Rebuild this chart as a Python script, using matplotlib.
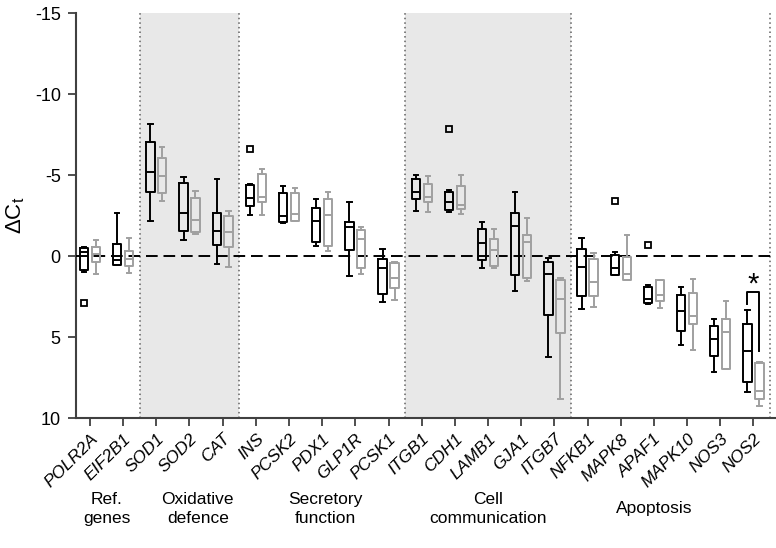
import numpy as np
import matplotlib
matplotlib.use('Agg')
import matplotlib.pyplot as plt

plt.rcParams['font.family'] = ['Liberation Sans', 'DejaVu Sans']
plt.rcParams['axes.unicode_minus'] = False

genes = ['POLR2A', 'EIF2B1', 'SOD1', 'SOD2', 'CAT', 'INS', 'PCSK2', 'PDX1', 'GLP1R', 'PCSK1',
         'ITGB1', 'CDH1', 'LAMB1', 'GJA1', 'ITGB7', 'NFKB1', 'MAPK8', 'APAF1', 'MAPK10', 'NOS3', 'NOS2']

# (whisker low, q1, median, q3, whisker high) for each gene, black series
black = [(-0.55, -0.5, -0.27, 0.84, 1.0), (-2.67, -0.78, 0.22, 0.53, 0.55),
         (-8.15, -7.02, -5.19, -3.99, -2.18), (-4.9, -4.49, -2.67, -1.56, -0.99),
         (-4.75, -2.65, -1.58, -0.68, 0.49), (-4.45, -4.42, -3.58, -3.12, -2.57),
         (-4.32, -3.91, -2.49, -2.08, -2.02), (-3.5, -3.0, -2.16, -0.88, -0.64),
         (-3.35, -2.12, -1.81, -0.37, 1.23), (-0.45, 0.19, 0.76, 2.35, 2.86),
         (-4.98, -4.79, -3.99, -3.54, -2.78), (-4.07, -3.99, -3.37, -2.84, -2.72),
         (-2.08, -1.65, -0.82, 0.25, 0.72), (-3.99, -2.65, -1.87, 1.15, 2.18),
         (0.14, 0.39, 1.11, 3.66, 6.25), (-1.15, -0.47, 0.66, 2.47, 3.29),
         (-0.23, -0.08, 0.76, 1.17, 1.17), (1.81, 1.93, 2.65, 2.88, 2.98),
         (1.89, 2.39, 3.4, 4.63, 5.49), (3.85, 4.3, 5.12, 6.15, 7.18),
         (3.33, 4.18, 5.84, 7.78, 8.4)]
black_out = {'POLR2A': [2.9], 'INS': [-6.62], 'CDH1': [-7.82], 'MAPK8': [-3.4], 'APAF1': [-0.66]}

# gray series
gray = [(-0.99, -0.58, -0.16, 0.35, 1.11), (-1.09, -0.31, 0.19, 0.6, 1.07),
        (-6.71, -6.07, -4.92, -3.87, -3.4), (-4.01, -3.56, -2.2, -1.5, -1.36),
        (-2.76, -2.45, -1.48, -0.58, 0.7), (-5.37, -5.1, -3.62, -3.35, -2.53),
        (-4.18, -3.87, -2.59, -2.18, -2.18), (-3.93, -3.5, -2.57, -0.62, -0.31),
        (-1.81, -1.6, -1.03, 0.76, 1.11), (0.39, 0.45, 1.34, 1.95, 2.72),
        (-4.96, -4.44, -3.68, -3.37, -2.7), (-5.02, -4.36, -3.15, -2.9, -2.59),
        (-1.67, -1.05, -0.35, 0.62, 0.76), (-2.33, -1.3, -0.86, 1.38, 1.56),
        (1.34, 1.48, 2.67, 4.77, 8.81), (-0.2, 0.2, 1.58, 2.45, 3.17),
        (-1.3, 0.04, 1.11, 1.46, 1.46), (1.46, 1.48, 2.37, 2.76, 3.19),
        (1.44, 2.28, 3.7, 4.22, 5.8), (2.76, 3.91, 4.67, 6.98, 6.98),
        (6.54, 6.6, 8.31, 8.85, 9.26)]

groups = ['Ref.\ngenes', 'Oxidative\ndefence', 'Secretory\nfunction', 'Cell\ncommunication', 'Apoptosis']
group_x = [0.5, 3.25, 7.1, 12.0, 17.0]
shaded = [(1.5, 4.5), (9.5, 14.5)]
separators = [1.5, 4.5, 9.5, 14.5, 20.5]


def make_stats(rows, outliers):
    stats = []
    for g, (lo, q1, med, q3, hi) in zip(genes, rows):
        stats.append(dict(whislo=lo, q1=q1, med=med, q3=q3, whishi=hi,
                          fliers=outliers.get(g, [])))
    return stats


fig = plt.figure(figsize=(7.76, 5.48), dpi=100)
ax = fig.add_axes([0.098, 0.237, 0.902, 0.739])

x = np.arange(len(genes))
for a, b in shaded:
    ax.axvspan(a, b, color='#e8e8e8', zorder=0, lw=0)
for s in separators:
    ax.axvline(s, color='#606060', ls=(0, (1, 2)), lw=1.1, zorder=1)
ax.axhline(0, color='black', ls=(0, (6, 3)), lw=1.4, zorder=3)

for rows, outl, col, off in [(black, black_out, 'black', -0.18), (gray, {}, '#a0a0a0', 0.18)]:
    ax.bxp(make_stats(rows, outl), positions=x + off, widths=0.25, capwidths=0.13,
           showfliers=True, manage_ticks=False,
           boxprops=dict(color=col, lw=1.4),
           whiskerprops=dict(color=col, lw=1.4),
           capprops=dict(color=col, lw=1.4),
           medianprops=dict(color=col, lw=1.4),
           flierprops=dict(marker='s', markersize=5, markerfacecolor='none',
                           markeredgecolor=col, markeredgewidth=1.3),
           zorder=4)

# significance bracket for NOS2
i = genes.index('NOS2')
ax.plot([i - 0.18, i - 0.18, i + 0.18, i + 0.18], [2.96, 2.2, 2.2, 5.84], color='black', lw=1.4, zorder=4)
ax.text(i, 1.75, '*', ha='center', va='center', fontsize=21)

ax.set_ylim(10, -15)
ax.set_xlim(-0.42, 20.68)
ax.set_yticks([-15, -10, -5, 0, 5, 10])
ax.set_yticklabels(['-15', '-10', '-5', '0', '5', '10'], fontsize=13)
ax.set_xticks(x)
ax.set_xticklabels(genes, rotation=45, ha='right', rotation_mode='anchor', fontsize=12.5, style='italic')
ax.set_ylabel('ΔC$_{\\mathregular{t}}$', fontsize=16)
ax.yaxis.set_label_coords(-0.07, 0.5)

for sp in ['top', 'right']:
    ax.spines[sp].set_visible(False)
for sp in ['left', 'bottom']:
    ax.spines[sp].set_color('#404040')
    ax.spines[sp].set_linewidth(1.5)
ax.tick_params(axis='both', color='#404040', width=1.3, length=6)
ax.tick_params(axis='y', pad=5)

for g, gx in zip(groups, group_x):
    ax.text(gx, 15.6, g, ha='center', va='center', fontsize=12.5, linespacing=1.3)

fig.savefig('out.png', dpi=100)
